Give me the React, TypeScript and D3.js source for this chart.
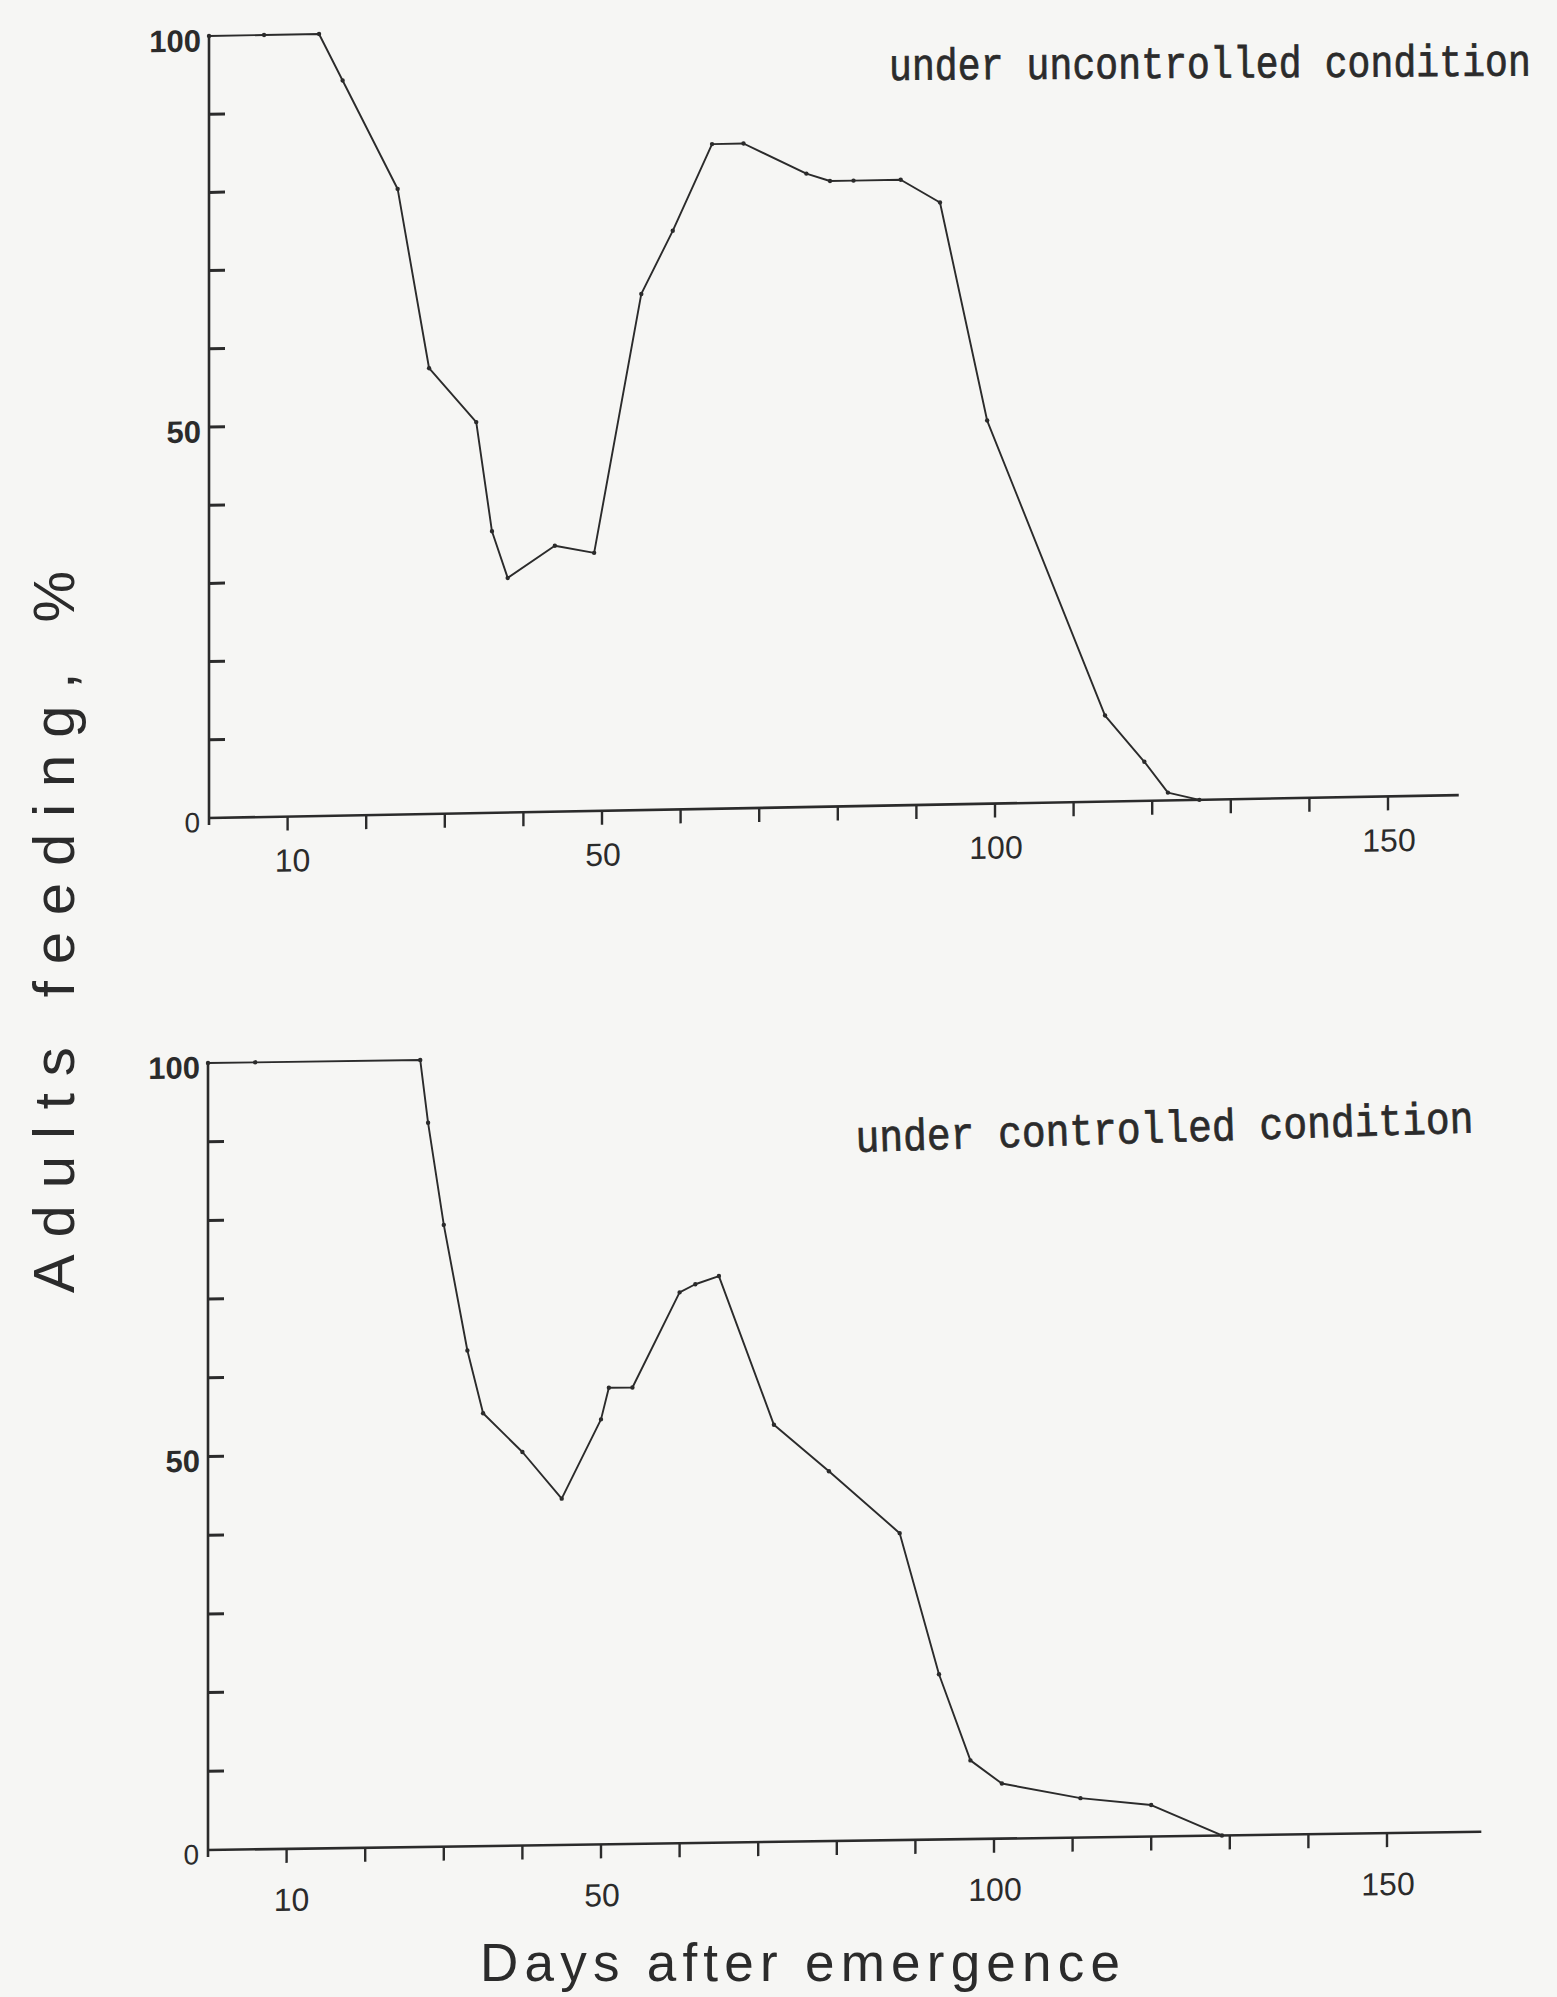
import React from "react";
import * as d3 from "d3";

// Days after emergence and % of adults feeding, uncontrolled rearing
const daysUncontrolled = [0, 7, 14, 17, 24, 28, 34, 36, 38, 44, 49, 55, 59, 64, 68, 76, 79, 82, 88, 93, 99, 114, 119, 122, 126];
const feedingUncontrolled = [100, 100, 100, 94, 80, 57, 50, 36, 30, 34, 33, 66, 74, 85, 85, 81, 80, 80, 80, 77, 49, 11, 5, 1, 0];

// Days after emergence and % of adults feeding, controlled rearing
const daysControlled = [0, 6, 27, 28, 30, 33, 35, 40, 45, 50, 51, 54, 60, 62, 65, 72, 79, 88, 93, 97, 101, 111, 120, 129];
const feedingControlled = [100, 100, 100, 92, 79, 63, 55, 50, 44, 54, 58, 58, 70, 71, 72, 53, 47, 39, 21, 10, 7, 5, 4, 0];

const xTickValues = [10, 20, 30, 40, 50, 60, 70, 80, 90, 100, 110, 120, 130, 140, 150];
const xTickLabels = [10, 50, 100, 150];
const yTickValues = [0, 10, 20, 30, 40, 50, 60, 70, 80, 90, 100];
const yTickLabels = [0, 50, 100];

const panelTitles = ["under uncontrolled condition", "under controlled condition"];
const yTitle = "Adults feeding, %";
const xTitle = "Days after emergence";

const WIDTH = 1557;
const HEIGHT = 1997;
const PX_PER_DAY = 7.86;
const INK = "#2b2b2b";
const SANS = "'Liberation Sans', Arial, Helvetica, sans-serif";
const MONO = "'Liberation Mono', 'Courier New', monospace";

type Layout = {
  originX: number;
  baseY: number;
  topY: number;
  maxDay: number;
  skew: number;
  xLabelDy: number;
};

const layouts: Layout[] = [
  { originX: 209, baseY: 818, topY: 36, maxDay: 159, skew: -1.05, xLabelDy: 55 },
  { originX: 208, baseY: 1850, topY: 1063, maxDay: 162, skew: -0.82, xLabelDy: 62 },
];

function Panel({ days, values, layout }: { days: number[]; values: number[]; layout: Layout }) {
  const x = d3
    .scaleLinear()
    .domain([0, layout.maxDay])
    .range([0, layout.maxDay * PX_PER_DAY]);
  const y = d3
    .scaleLinear()
    .domain([0, 100])
    .range([0, -(layout.baseY - layout.topY)]);
  const pts: [number, number][] = days.map((d, i) => [d, values[i]]);
  const line = d3
    .line<[number, number]>()
    .x((p) => x(p[0]))
    .y((p) => y(p[1]));

  return (
    <g transform={`translate(${layout.originX},${layout.baseY}) skewY(${layout.skew})`}>
      {/* axes */}
      <line x1={0} y1={7} x2={0} y2={y(100)} stroke={INK} strokeWidth={2.6} />
      <line x1={-1} y1={0} x2={x(layout.maxDay)} y2={0} stroke={INK} strokeWidth={2.6} />
      {yTickValues
        .filter((v) => v > 0 && v < 100)
        .map((v) => (
          <line key={v} x1={0} x2={16} y1={y(v)} y2={y(v)} stroke={INK} strokeWidth={3} />
        ))}
      {yTickLabels.map((v) => (
        <text
          key={v}
          x={v === 0 ? -9 : -8}
          y={y(v) + 4}
          dy="0.36em"
          textAnchor="end"
          fontFamily={SANS}
          fontWeight={v === 0 ? 400 : 700}
          fontSize={v === 0 ? 28 : 31}
          fill={INK}
        >
          {v}
        </text>
      ))}
      {xTickValues.map((v) => (
        <line key={v} x1={x(v)} x2={x(v)} y1={0} y2={14} stroke={INK} strokeWidth={2.4} />
      ))}
      {xTickLabels.map((v) => (
        <text
          key={v}
          x={x(v) + (v === 10 ? 5 : 1)}
          y={layout.xLabelDy}
          textAnchor="middle"
          fontFamily={SANS}
          fontSize={32}
          fill={INK}
        >
          {v}
        </text>
      ))}
      {/* data */}
      <path d={line(pts) ?? ""} fill="none" stroke={INK} strokeWidth={1.9} strokeLinejoin="round" />
      {pts.map((p, i) => (
        <circle key={i} cx={x(p[0])} cy={y(p[1])} r={2.2} fill={INK} />
      ))}
    </g>
  );
}

export default function App() {
  return (
    <svg
      width={WIDTH}
      height={HEIGHT}
      viewBox={`0 0 ${WIDTH} ${HEIGHT}`}
      style={{ position: "absolute", left: 0, top: 0, display: "block", background: "#f6f6f4" }}
    >
      <rect x={0} y={0} width={WIDTH} height={HEIGHT} fill="#f6f6f4" />
      <Panel days={daysUncontrolled} values={feedingUncontrolled} layout={layouts[0]} />
      <Panel days={daysControlled} values={feedingControlled} layout={layouts[1]} />

      <g transform="translate(889,80) rotate(-0.4) scale(1,1.18)">
        <text
          x={0}
          y={0}
          fontFamily={MONO}
          fontSize={38}
          textLength={642}
          lengthAdjust="spacingAndGlyphs"
          fill={INK}
          stroke={INK}
          strokeWidth={0.6}
        >
          {panelTitles[0]}
        </text>
      </g>
      <g transform="translate(856,1152) rotate(-1.8) scale(1,1.18)">
        <text
          x={0}
          y={0}
          fontFamily={MONO}
          fontSize={38}
          textLength={618}
          lengthAdjust="spacingAndGlyphs"
          fill={INK}
          stroke={INK}
          strokeWidth={0.6}
        >
          {panelTitles[1]}
        </text>
      </g>

      <text
        transform="translate(74,932) rotate(-90)"
        textAnchor="middle"
        fontFamily={SANS}
        fontSize={58}
        textLength={722}
        lengthAdjust="spacing"
        fill={INK}
      >
        {yTitle}
      </text>
      <text
        x={800}
        y={1981}
        textAnchor="middle"
        fontFamily={SANS}
        fontSize={53}
        textLength={640}
        lengthAdjust="spacing"
        fill={INK}
      >
        {xTitle}
      </text>
    </svg>
  );
}
